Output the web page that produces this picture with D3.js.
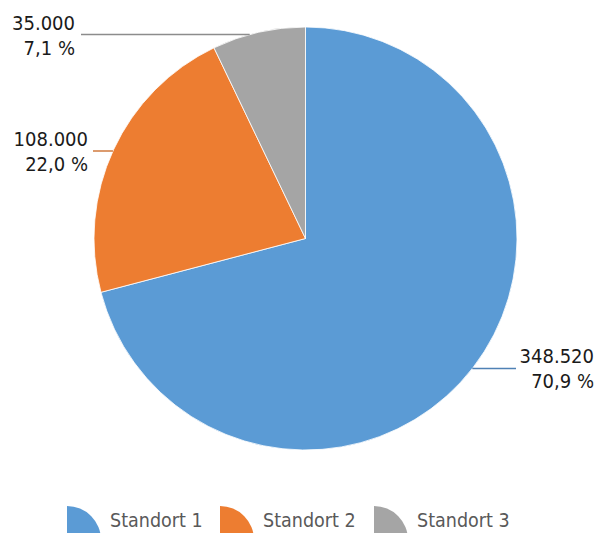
<!DOCTYPE html>
<html lang="de">
<head>
<meta charset="UTF-8" />
<title>Standorte</title>
<script src="https://d3js.org/d3.v7.min.js"></script>
<style>
  body { margin: 0; background: #fff; }
  text { font-family: "DejaVu Sans Condensed", "DejaVu Sans", sans-serif; }
</style>
</head>
<body>
<div id="chart"></div>
<script>
var categories = ["Standort 1", "Standort 2", "Standort 3"];
var values = [348520, 108000, 35000];
var valueLabels = ["348.520", "108.000", "35.000"];
var percentLabels = ["70,9 %", "22,0 %", "7,1 %"];
var colors = ["#5b9bd5", "#ed7d31", "#a5a5a5"];
var lineColors = ["#4f81b5", "#c9651f", "#8c8c8c"];

var width = 600, height = 533;
var cx = 305.5, cy = 238.5, radius = 211.5;

var svg = d3.select("#chart").append("svg")
  .attr("width", width)
  .attr("height", height);

var data = categories.map(function (c, i) {
  return { name: c, value: values[i], vLabel: valueLabels[i], pLabel: percentLabels[i], i: i };
});

var pie = d3.pie().sort(null).value(function (d) { return d.value; });
var arc = d3.arc().innerRadius(0).outerRadius(radius);
var arcs = pie(data);

var g = svg.append("g").attr("transform", "translate(" + cx + "," + cy + ")");

g.selectAll("path.slice")
  .data(arcs)
  .enter().append("path")
  .attr("class", "slice")
  .attr("d", arc)
  .attr("fill", function (d) { return colors[d.data.i]; })
  .attr("stroke", "#fff")
  .attr("stroke-width", 0.8);

// label placement (text anchor end x, first baseline y, leader line y, side)
var labelPos = [
  { x: 594, y: 363, ly: 368.5, side: 1, lx: 516 },
  { x: 88, y: 146, ly: 151, side: -1, lx: 93 },
  { x: 75, y: 30, ly: 34.5, side: -1, lx: 81 }
];

arcs.forEach(function (a) {
  var p = labelPos[a.data.i];
  var dy = p.ly - cy;
  var edgeX = cx + p.side * Math.sqrt(radius * radius - dy * dy);
  svg.append("line")
    .attr("x1", p.lx).attr("y1", p.ly)
    .attr("x2", edgeX).attr("y2", p.ly)
    .attr("stroke", lineColors[a.data.i])
    .attr("stroke-width", 1.3);
  var t = svg.append("text")
    .attr("text-anchor", "end")
    .attr("fill", "#1a1a1a")
    .style("font-size", "20px");
  t.append("tspan").attr("x", p.x).attr("y", p.y).text(a.data.vLabel);
  t.append("tspan").attr("x", p.x).attr("y", p.y + 24.5).text(a.data.pLabel);
});

// legend
var legendX = [67, 220, 374];
var legend = svg.append("g");
data.forEach(function (d, i) {
  var iconArc = d3.arc().innerRadius(0).outerRadius(34)
    .startAngle(0).endAngle(Math.PI / 2);
  legend.append("path")
    .attr("transform", "translate(" + legendX[i] + ",540)")
    .attr("d", iconArc())
    .attr("fill", colors[i]);
  legend.append("text")
    .attr("x", legendX[i] + 43)
    .attr("y", 527)
    .attr("fill", "#595959")
    .style("font-size", "19.5px")
    .text(d.name);
});
</script>
</body>
</html>
